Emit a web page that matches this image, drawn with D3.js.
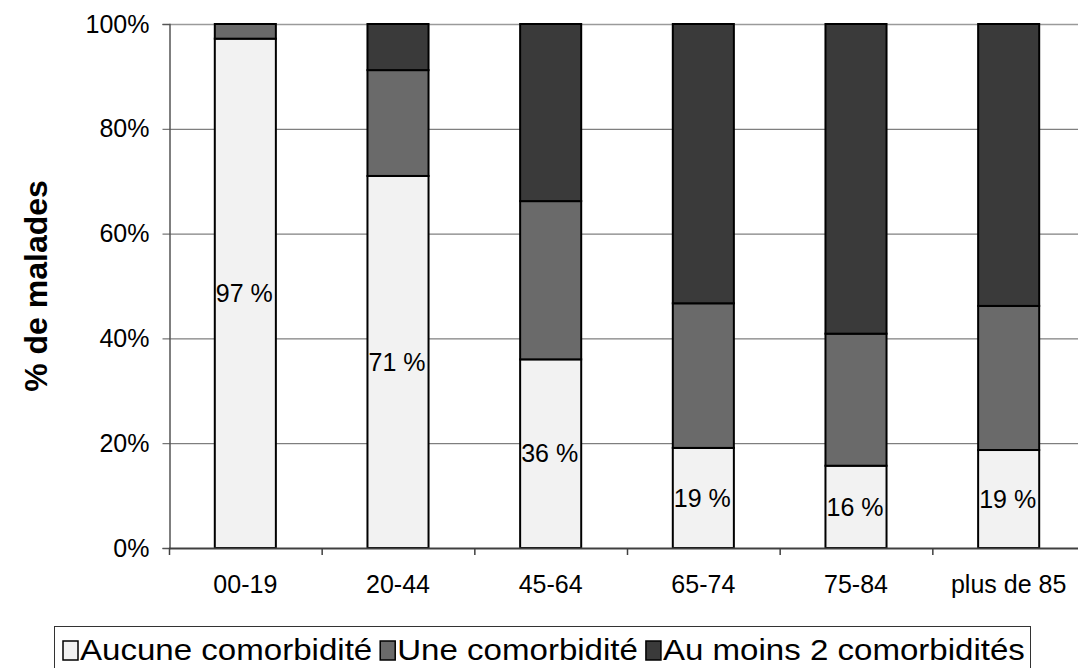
<!DOCTYPE html>
<html>
<head>
<meta charset="utf-8">
<script src="https://cdn.jsdelivr.net/npm/d3@7/dist/d3.min.js"></script>
<style>
  html, body { margin: 0; padding: 0; background: #fff; }
  svg { display: block; font-family: "Liberation Sans", Arial, sans-serif; }
</style>
</head>
<body>
<svg id="chart" width="1078" height="668"></svg>
<script>
// ---- data ----
const categories = ["00-19", "20-44", "45-64", "65-74", "75-84", "plus de 85"];
const aucune = [97.2, 71.0, 36.0, 19.1, 15.7, 18.7];
const une = [2.8, 20.2, 30.2, 27.6, 25.2, 27.5];
const auMoins2 = [0.0, 8.8, 33.8, 53.3, 59.1, 53.8];
const valueLabels = ["97 %", "71 %", "36 %", "19 %", "16 %", "19 %"];
const seriesNames = ["Aucune comorbidité", "Une comorbidité", "Au moins 2 comorbidités"];
const yTicks = [0, 20, 40, 60, 80, 100];
const yTitle = "% de malades";

// ---- layout ----
const svg = d3.select("#chart");
const plotLeft = 169, plotRight = 1085, plotTop = 24, plotBottom = 548;
const colors = ["#f2f2f2", "#6a6a6a", "#3a3a3a"];

const x = d3.scaleBand().domain(categories).range([plotLeft, plotRight])
  .paddingInner(0.6).paddingOuter(0.3);
const y = d3.scaleLinear().domain([0, 100]).range([plotBottom, plotTop]);

// gridlines
svg.append("g").selectAll("line").data(yTicks.filter(t => t > 0)).join("line")
  .attr("x1", plotLeft).attr("x2", 1078)
  .attr("y1", d => y(d) + 0.5).attr("y2", d => y(d) + 0.5)
  .attr("stroke", d => d === 100 ? "#9a9a9a" : "#606060")
  .attr("stroke-width", d => d === 100 ? 1.5 : 1);

// stacked data
const rows = categories.map((c, i) => ({ cat: c, a: aucune[i], u: une[i], m: auMoins2[i] }));
const stack = d3.stack().keys(["a", "u", "m"]);
const stacked = stack(rows);

svg.append("g").selectAll("g").data(stacked).join("g")
  .attr("fill", (d, i) => colors[i])
  .selectAll("rect").data(d => d.filter(p => p[1] - p[0] > 0.05)).join("rect")
  .attr("x", d => x(d.data.cat))
  .attr("width", x.bandwidth())
  .attr("y", d => y(d[1]))
  .attr("height", d => y(d[0]) - y(d[1]))
  .attr("stroke", "#000")
  .attr("stroke-width", 2);

// value labels
svg.append("g").selectAll("text").data(rows).join("text")
  .attr("x", d => x(d.cat) + x.bandwidth() / 2 - 1)
  .attr("y", d => y(d.a / 2))
  .attr("dy", "0.35em")
  .attr("text-anchor", "middle")
  .attr("font-size", 25)
  .attr("fill", "#000")
  .text((d, i) => valueLabels[i]);

// y axis
const yAxis = d3.axisLeft(y).tickValues(yTicks).tickFormat(d => d + "%").tickSize(7).tickPadding(13);
const gy = svg.append("g").attr("transform", `translate(${plotLeft + 0.5},0)`).call(yAxis);
gy.select(".domain").attr("stroke", "#555").attr("stroke-width", 1.5);
gy.selectAll(".tick line").attr("stroke", "#555");
gy.selectAll(".tick text").attr("font-size", 25).attr("font-family", "Liberation Sans, Arial, sans-serif").attr("fill", "#000");

// x axis baseline
svg.append("line").attr("x1", plotLeft).attr("x2", 1078).attr("y1", plotBottom + 0.5).attr("y2", plotBottom + 0.5)
  .attr("stroke", "#404040").attr("stroke-width", 2);
// x ticks at category boundaries
const step = x.step();
const bounds = categories.map((c, i) => x(c) - (step - x.bandwidth()) / 2);
svg.append("g").selectAll("line").data(bounds).join("line")
  .attr("x1", d => d + 0.5).attr("x2", d => d + 0.5)
  .attr("y1", plotBottom).attr("y2", plotBottom + 7)
  .attr("stroke", "#404040").attr("stroke-width", 1.5);
// x labels
svg.append("g").selectAll("text").data(categories).join("text")
  .attr("x", d => x(d) + x.bandwidth() / 2)
  .attr("y", 593)
  .attr("text-anchor", "middle")
  .attr("font-size", 25)
  .attr("fill", "#000")
  .text(d => d);

// y title
svg.append("text")
  .attr("transform", `translate(47,286) rotate(-90)`)
  .attr("text-anchor", "middle")
  .attr("font-size", 32)
  .attr("font-weight", "bold")
  .attr("fill", "#000")
  .text(yTitle);

// legend
const lg = svg.append("g");
lg.append("rect").attr("x", 54.5).attr("y", 626.5).attr("width", 976).attr("height", 60)
  .attr("fill", "#fff").attr("stroke", "#333").attr("stroke-width", 1);
let lx = 63;
seriesNames.forEach((name, i) => {
  lg.append("rect").attr("x", lx).attr("y", 641).attr("width", 15).attr("height", 19)
    .attr("fill", colors[i]).attr("stroke", "#000").attr("stroke-width", 1.5);
  const t = lg.append("text").attr("x", lx + 17).attr("y", 660)
    .attr("font-size", 29).attr("fill", "#000").text(name);
  const w = t.node().getComputedTextLength() * 1.14;
  t.attr("textLength", w).attr("lengthAdjust", "spacingAndGlyphs");
  lx += 17 + w + 8;
});
</script>
</body>
</html>
